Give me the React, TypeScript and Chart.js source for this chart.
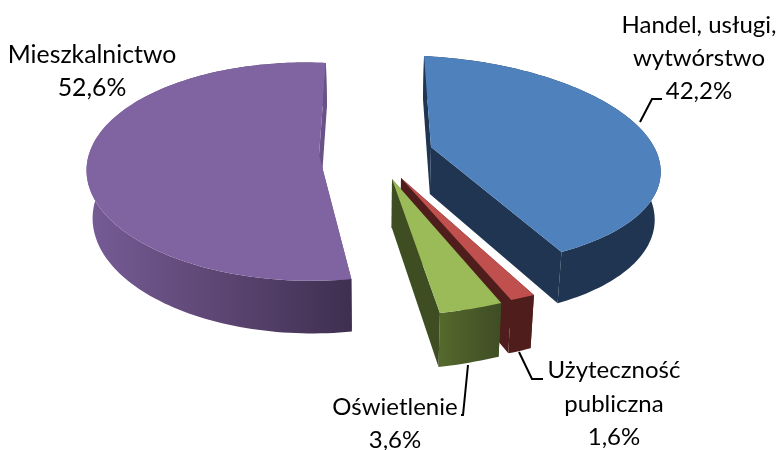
import { useEffect, useRef } from "react";
import { Chart, registerables } from "chart.js";

Chart.register(...registerables);

const categories = ["Handel, usługi,\nwytwórstwo", "Użyteczność\npubliczna", "Oświetlenie", "Mieszkalnictwo"];
const shares = [42.2, 1.6, 3.6, 52.6];
const faceColors = ["#4f81bd", "#c0504d", "#9bbb59", "#8064a2"];

// Camera fit of each exploded slice: apex, axes and perspective terms.
const views = [
  { ax: 431, ay: 147, A: 235.5, S: 7.9, B: 102.9, T: 8.3, k: 0.131, m: 0.039 },
  { ax: 401, ay: 178, A: 256.5, S: 13.8, B: 129.4, T: 5.9, k: 0, m: 0 },
  { ax: 392, ay: 179, A: 283, S: 1.9, B: 137, T: -7, k: 0, m: 0 },
  { ax: 319, ay: 155, A: 218.5, S: -8, B: 106.3, T: 6, k: 0.155, m: 0.042 },
];
const wallStops = [
  ["#1f3552", "#1f3552", "#1f3552"],
  ["#4f1d1c", "#4f1d1c", "#4f1d1c"],
  ["#55692d", "#4a5a29", "#3f4d24"],
  ["#765c96", "#5d4673", "#3e2f50"],
];
const radialWalls = ["#1f3552", "#4f1d1c", "#3f4d22", "#6a5289"];
const paintOrder = [3, 0, 1, 2];
const labelLayout = [
  { x: 699, y: 33, gap: 33 },
  { x: 614, y: 378, gap: 33.5 },
  { x: 395, y: 415, gap: 33 },
  { x: 92, y: 63, gap: 33 },
];
const labelSizes = [24, 24, 24, 24.8];
const leaders = [
  [[640, 122], [652, 99], [662, 99]],
  [[519, 352], [532, 379], [543, 379]],
  [[468, 365], [463, 415], [461, 415]],
];

const VANISH_X = 375;
const dropped = (p: number[]) => [
  VANISH_X + (p[0] - VANISH_X) * 0.979,
  p[1] + 47 + 0.042 * (p[1] - 147),
];

function project(v: (typeof views)[number], a: number) {
  const x = Math.cos(a);
  const y = Math.sin(a);
  const w = 1 - v.k * y + v.m * x;
  return [v.ax + (v.A * x + v.S * y) / w, v.ay + (v.B * y + v.T * x) / w];
}

function fillPoly(ctx: CanvasRenderingContext2D, pts: number[][], style: string | CanvasGradient) {
  ctx.beginPath();
  pts.forEach((p, i) => (i ? ctx.lineTo(p[0], p[1]) : ctx.moveTo(p[0], p[1])));
  ctx.closePath();
  ctx.fillStyle = style;
  ctx.fill();
}

const pie3d = {
  id: "pie3d",
  beforeDatasetDraw(chart: any) {
    const ctx: CanvasRenderingContext2D = chart.ctx;
    const arcs = chart.getDatasetMeta(0).data;
    for (const i of paintOrder) {
      const arc = arcs[i];
      const v = views[i];
      const { startAngle, endAngle } = arc.getProps(["startAngle", "endAngle"]);
      const rim: number[][] = [];
      const steps = Math.max(4, Math.ceil((endAngle - startAngle) * 40));
      for (let s = 0; s <= steps; s++) rim.push(project(v, startAngle + ((endAngle - startAngle) * s) / steps));
      const apex = [v.ax, v.ay];
      const xs = rim.map((p) => p[0]);
      const grad = ctx.createLinearGradient(Math.min(...xs), 0, Math.max(...xs), 0);
      wallStops[i].forEach((c, n) => grad.addColorStop(n / 2, c));
      const last = rim[rim.length - 1];
      fillPoly(ctx, [apex, rim[0], dropped(rim[0]), dropped(apex)], radialWalls[i]);
      fillPoly(ctx, [...rim, ...rim.map(dropped).reverse()], grad);
      fillPoly(ctx, [apex, last, dropped(last), dropped(apex)], radialWalls[i]);
      fillPoly(ctx, [apex, ...rim], arc.options.backgroundColor);
    }
    return false;
  },
  afterDraw(chart: any) {
    const ctx: CanvasRenderingContext2D = chart.ctx;
    ctx.save();
    ctx.strokeStyle = "#000";
    ctx.lineWidth = 2;
    for (const line of leaders) {
      ctx.beginPath();
      line.forEach((p, i) => (i ? ctx.lineTo(p[0], p[1]) : ctx.moveTo(p[0], p[1])));
      ctx.stroke();
    }
    ctx.fillStyle = "#000";
    ctx.textAlign = "center";
    ctx.textBaseline = "alphabetic";
    categories.forEach((name, i) => {
      ctx.font = `${labelSizes[i]}px Lato`;
      const lines = [...name.split("\n"), shares[i].toFixed(1).replace(".", ",") + "%"];
      const l = labelLayout[i];
      lines.forEach((t, n) => ctx.fillText(t, l.x, l.y + n * l.gap));
    });
    ctx.restore();
  },
};

export default function App() {
  const ref = useRef<HTMLCanvasElement>(null);
  useEffect(() => {
    document.body.style.margin = "0";
    const chart = new Chart(ref.current!, {
      type: "pie",
      data: {
        labels: categories,
        datasets: [{ data: shares, backgroundColor: faceColors, borderWidth: 0 }],
      },
      options: {
        animation: false,
        responsive: false,
        plugins: { legend: { display: false }, tooltip: { enabled: false } },
      },
      plugins: [pie3d],
    });
    return () => chart.destroy();
  }, []);
  return <canvas ref={ref} width={782} height={450} style={{ display: "block" }} />;
}
